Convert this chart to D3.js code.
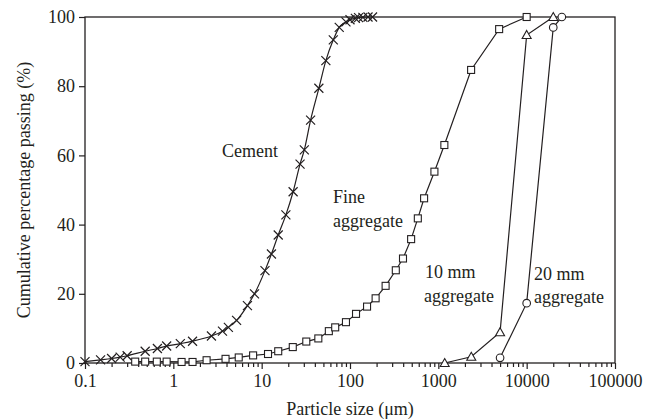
<!DOCTYPE html>
<html>
<head>
<meta charset="utf-8">
<script src="https://d3js.org/d3.v7.min.js"></script>
<style>
body { margin: 0; background: #fff; }
svg { display: block; font-family: "Liberation Serif", "Times New Roman", serif; }
</style>
</head>
<body>
<svg></svg>
<script>
// particle size (um) and cumulative % passing
var cementSize = [0.1, 0.15, 0.2, 0.25, 0.3, 0.48, 0.66, 0.84, 1.2, 1.65, 2.7, 3.6, 4.2, 5.2, 6.9, 8.3, 10.9, 12.9, 15.4, 18.8, 22.7, 27.2, 30.4, 35.8, 44.4, 53.3, 64.7, 75.5, 90, 100, 115, 125, 140, 160, 180]
var cementPass = [0.4, 0.9, 1.3, 1.7, 2.1, 3.4, 4.2, 4.9, 5.6, 6.3, 7.8, 9.2, 10.3, 12.3, 16.6, 20, 26.7, 31.5, 37, 42.8, 49.5, 57.5, 61.6, 70.2, 79.4, 87.4, 93.4, 97, 98.6, 99.2, 99.6, 99.8, 99.9, 100, 100]

var fineSize = [0.37, 0.48, 0.65, 0.84, 1.24, 1.65, 2.38, 3.9, 5.5, 8.0, 11.8, 15.4, 22.5, 32, 43.8, 57.6, 68, 90, 117, 156, 195, 253, 330, 398, 492, 586, 690, 903, 1170, 2350, 4880, 10000]
var finePass = [0.4, 0.4, 0.4, 0.4, 0.3, 0.3, 0.8, 1.2, 1.6, 2.2, 2.6, 3.4, 4.6, 6.2, 7.1, 9.2, 10.3, 11.8, 14.2, 16.3, 18.7, 22.3, 26.8, 30.2, 35.8, 41.8, 47.6, 55.3, 63, 84.7, 96.5, 100]

var agg10Size = [1180, 2360, 5000, 10000, 20000]
var agg10Pass = [0, 1.8, 8.9, 94.8, 100]

var agg20Size = [5000, 10000, 20000, 25000]
var agg20Pass = [1.5, 17.3, 97, 100]

var xTicks = [0.1, 1, 10, 100, 1000, 10000, 100000]
var yTicks = [0, 20, 40, 60, 80, 100]

var screen = {width: 656, height: 419}
var margin = {left: 85, right: 41, top: 17, bottom: 56}
var ink = "#231f20"

var svg = d3.select("svg")
    .attr("width", screen.width)
    .attr("height", screen.height)

var xscale = d3.scaleLog()
    .domain([0.1, 100000])
    .range([margin.left, screen.width - margin.right])

var yscale = d3.scaleLinear()
    .domain([0, 100])
    .range([screen.height - margin.bottom, margin.top])

var toPoints = function(sizes, passes)
{
    return sizes.map(function(s, i)
    {
        return {x: s, y: passes[i]}
    })
}

// minor ticks on x
var minor = []
xTicks.forEach(function(t, i)
{
    if (i < xTicks.length - 1) {
        for (var k = 2; k < 10; k++) minor.push(t * k)
    }
})

var xAxisG = svg.append("g")
    .attr("transform", "translate(0," + yscale(0) + ")")

xAxisG.append("g")
    .call(d3.axisBottom(xscale).tickValues(minor).tickSize(4).tickFormat(""))

xAxisG.append("g")
    .call(d3.axisBottom(xscale).tickValues(xTicks).tickSize(6).tickPadding(5)
        .tickFormat(function(d) { return d < 1 ? "0.1" : d3.format("d")(d) }))

var yAxisG = svg.append("g")
    .attr("transform", "translate(" + margin.left + ",0)")
    .call(d3.axisLeft(yscale).tickValues(yTicks).tickSize(6).tickPadding(4))

svg.selectAll(".domain").remove()
svg.selectAll(".tick line").attr("stroke", ink).attr("stroke-width", 1.2)
svg.selectAll(".tick text")
    .attr("fill", ink)
    .style("font-size", "18px")
    .style("font-family", "Liberation Serif, serif")

// frame
svg.append("rect")
    .attr("x", xscale(0.1))
    .attr("y", yscale(100))
    .attr("width", xscale(100000) - xscale(0.1))
    .attr("height", yscale(0) - yscale(100))
    .attr("fill", "none")
    .attr("stroke", ink)
    .attr("stroke-width", 1.3)

var smoothLine = d3.line()
    .x(function(p) { return xscale(p.x) })
    .y(function(p) { return yscale(p.y) })
    .curve(d3.curveMonotoneX)

var straightLine = d3.line()
    .x(function(p) { return xscale(p.x) })
    .y(function(p) { return yscale(p.y) })

var drawSeries = function(points, marker, lineGen)
{
    svg.append("path")
        .datum(points)
        .attr("d", lineGen)
        .attr("fill", "none")
        .attr("stroke", ink)
        .attr("stroke-width", 1.2)

    var g = svg.append("g")
    var sel = g.selectAll("g")
        .data(points)
        .enter()
        .append("g")
        .attr("transform", function(p) { return "translate(" + xscale(p.x) + "," + yscale(p.y) + ")" })

    if (marker == "cross") {
        sel.append("path")
            .attr("d", "M-4.5,-4.5L4.5,4.5M-4.5,4.5L4.5,-4.5")
            .attr("stroke", ink)
            .attr("stroke-width", 1.2)
    }
    else if (marker == "square") {
        sel.append("rect")
            .attr("x", -3.5).attr("y", -3.5)
            .attr("width", 7).attr("height", 7)
            .attr("fill", "#fff").attr("stroke", ink).attr("stroke-width", 1.1)
    }
    else if (marker == "triangle") {
        sel.append("path")
            .attr("d", "M0,-4.5L4.5,3.5L-4.5,3.5Z")
            .attr("fill", "#fff").attr("stroke", ink).attr("stroke-width", 1.1)
    }
    else {
        sel.append("circle")
            .attr("r", 3.8)
            .attr("fill", "#fff").attr("stroke", ink).attr("stroke-width", 1.1)
    }
}

drawSeries(toPoints(cementSize, cementPass), "cross", smoothLine)
drawSeries(toPoints(fineSize, finePass), "square", straightLine)
drawSeries(toPoints(agg10Size, agg10Pass), "triangle", straightLine)
drawSeries(toPoints(agg20Size, agg20Pass), "circle", straightLine)

// labels
var label = function(x, y, text)
{
    svg.append("text")
        .attr("x", x)
        .attr("y", y)
        .attr("fill", ink)
        .style("font-size", "18px")
        .text(text)
}

label(222, 157, "Cement")
label(333, 203, "Fine")
label(333, 227, "aggregate")
label(425, 278, "10 mm")
label(424, 302, "aggregate")
label(534, 280, "20 mm")
label(534, 303, "aggregate")

svg.append("text")
    .attr("x", (xscale(0.1) + xscale(100000)) / 2)
    .attr("y", 415)
    .attr("text-anchor", "middle")
    .attr("fill", ink)
    .style("font-size", "18px")
    .text("Particle size (\u03bcm)")

svg.append("text")
    .attr("transform", "translate(30," + ((yscale(0) + yscale(100)) / 2) + ") rotate(-90)")
    .attr("text-anchor", "middle")
    .attr("fill", ink)
    .style("font-size", "18px")
    .text("Cumulative percentage passing (%)")
</script>
</body>
</html>
